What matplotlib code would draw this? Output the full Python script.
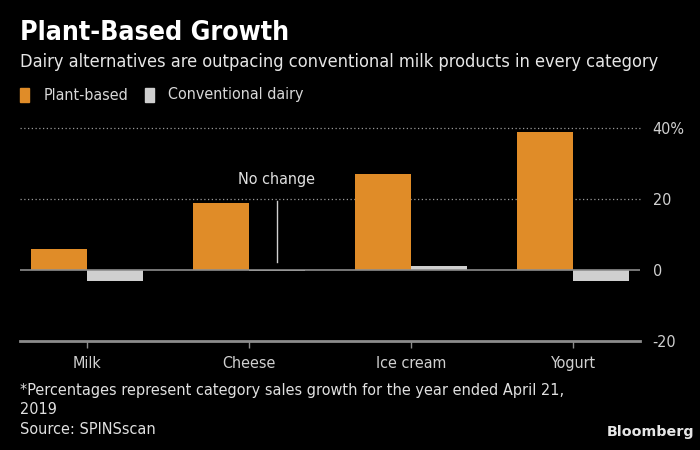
import matplotlib.pyplot as plt
import numpy as np
from matplotlib.patches import Rectangle

plt.rcParams['font.family'] = ['DejaVu Sans']
plt.rcParams['font.stretch'] = 'condensed'

# data
categories = ['Milk', 'Cheese', 'Ice cream', 'Yogurt']
plant_based = [6, 19, 27, 39]
conventional = [-3, 0, 1, -3]
y_ticks = [-20, 0, 20, 40]
y_labels = ['-20', '0', '20', '40%']

orange = '#E08C28'
gray = '#CFCFCF'
axis_gray = '#8C8C8C'

fig = plt.figure(figsize=(7, 4.5), dpi=100, facecolor='black')
ax = fig.add_axes([20/700, 1-341/450, 620/700, 213/450], facecolor='black')

x = np.arange(len(categories))
w = 0.345
ax.bar(x - w/2, plant_based, w, color=orange, zorder=3)
# draw a sliver for zero values so "no change" shows a line
conv_draw = [v if v != 0 else -0.25 for v in conventional]
ax.bar(x + w/2, conv_draw, w, color=gray, zorder=3)

ax.set_xlim(-0.41, 3.41)
ax.set_ylim(-20, 40)

# gridlines
for yv in [20, 40]:
    ax.axhline(yv, color='#9a9a9a', lw=0.9, ls=(0, (1, 2)), zorder=1, clip_on=False)
ax.axhline(0, color=axis_gray, lw=1.2, zorder=4)
ax.axhline(-20, color=axis_gray, lw=2, zorder=4, clip_on=False)

for s in ax.spines.values():
    s.set_visible(False)

ax.yaxis.tick_right()
ax.set_yticks(y_ticks)
ax.set_yticklabels(y_labels)
ax.tick_params(axis='y', length=0, pad=9, labelsize=11.5, colors='#d0d0d0')
ax.set_xticks(x)
ax.set_xticklabels(categories)
ax.tick_params(axis='x', length=5, width=1, color=axis_gray, pad=6,
               labelsize=11.5, labelcolor='#d0d0d0', direction='out')

# annotation
ax.annotate('No change', xy=(1 + w/2, 25.5), ha='center', va='center',
            color='#e0e0e0', fontsize=11.5)
ax.plot([1 + w/2, 1 + w/2], [2.2, 19.5], color='#d0d0d0', lw=1, zorder=5)

# titles
fig.text(20/700, 1-33/450, 'Plant-Based Growth', color='white', fontsize=19.2,
         fontweight='bold', va='center', ha='left')
fig.text(20/700, 1-62/450, 'Dairy alternatives are outpacing conventional milk products in every category',
         color='#e6e6e6', fontsize=13.1, va='center', ha='left')

# legend
fig.patches.append(Rectangle((20/700, 1-102/450), 9/700, 14/450,
                             transform=fig.transFigure, color=orange))
fig.text(44/700, 1-95/450, 'Plant-based', color='#d8d8d8', fontsize=11.5,
         va='center', ha='left')
fig.patches.append(Rectangle((145/700, 1-102/450), 9/700, 14/450,
                             transform=fig.transFigure, color=gray))
fig.text(168/700, 1-95/450, 'Conventional dairy', color='#d8d8d8', fontsize=11.5,
         va='center', ha='left')

# footnotes
fig.text(20/700, 1-390/450, '*Percentages represent category sales growth for the year ended April 21,',
         color='#e0e0e0', fontsize=11.6, va='center', ha='left')
fig.text(20/700, 1-409/450, '2019', color='#e0e0e0', fontsize=11.6, va='center', ha='left')
fig.text(20/700, 1-430/450, 'Source: SPINSscan', color='#e0e0e0', fontsize=11.6,
         va='center', ha='left')
fig.text(694/700, 1-432/450, 'Bloomberg', color='#e6e6e6', fontsize=10.3,
         fontweight='bold', fontstretch='normal', va='center', ha='right')

fig.savefig('out.png', dpi=100, facecolor='black')
